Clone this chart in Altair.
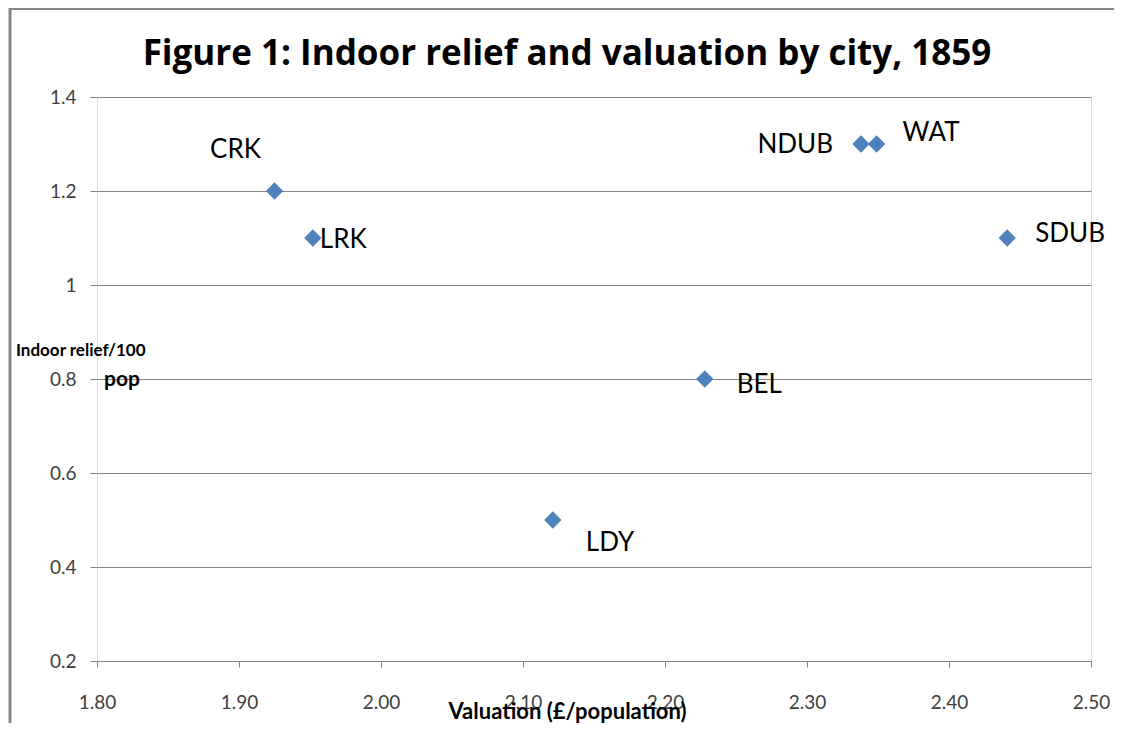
import altair as alt
import pandas as pd

# ---- data ----
cities = ["CRK", "LRK", "NDUB", "WAT", "SDUB", "BEL", "LDY"]
valuation = [1.925, 1.952, 2.338, 2.349, 2.441, 2.228, 2.121]
relief = [1.2, 1.1, 1.3, 1.3, 1.1, 0.8, 0.5]

x_ticks = [1.8, 1.9, 2.0, 2.1, 2.2, 2.3, 2.4, 2.5]
y_ticks = [0.2, 0.4, 0.6, 0.8, 1.0, 1.2, 1.4]

title_text = "Figure 1: Indoor relief and valuation by city, 1859"
y_title_lines = ["Indoor relief/100", "pop"]

df = pd.DataFrame({"city": cities, "valuation": valuation, "relief": relief})

# ---- styling ----
FONT = "Lato"
BLUE = "#4F81BD"
GRID = "#868686"
W, H = 994, 564

label_style = {
    "CRK": dict(align="center", dx=-39, dy=-41),
    "LRK": dict(align="left", dx=7, dy=2),
    "NDUB": dict(align="right", dx=-28, dy=1),
    "WAT": dict(align="left", dx=26, dy=-11),
    "SDUB": dict(align="left", dx=28, dy=-4),
    "BEL": dict(align="left", dx=32, dy=6),
    "LDY": dict(align="left", dx=33, dy=23),
}

x_enc = alt.X(
    "valuation:Q",
    scale=alt.Scale(domain=[1.8, 2.5], nice=False, zero=False),
    axis=alt.Axis(
        title="Valuation (£/population)",
        values=x_ticks,
        format=".2f",
        grid=False,
        domainColor=GRID,
        tickColor=GRID,
        tickSize=6,
        labelFlush=False,
        labelFont=FONT,
        labelFontSize=19,
        labelColor="#404040",
        labelBaseline="alphabetic",
        labelPadding=41,
        titleFont=FONT,
        titleFontSize=22,
        titleFontWeight="bold",
        titleColor="#000000",
        titleAlign="center",
        titleBaseline="alphabetic",
        titleX=470,
        titleY=57,
    ),
)
y_enc = alt.Y(
    "relief:Q",
    scale=alt.Scale(domain=[0.2, 1.4], nice=False, zero=False),
    axis=alt.Axis(
        title=y_title_lines[0],
        values=y_ticks,
        format="~g",
        grid=True,
        gridColor=GRID,
        gridWidth=1,
        domain=False,
        tickColor=GRID,
        tickSize=7,
        labelFlush=False,
        labelFont=FONT,
        labelFontSize=19,
        labelColor="#404040",
        labelPadding=14,
        titleFont=FONT,
        titleFontSize=17,
        titleFontWeight="bold",
        titleColor="#000000",
        titleAngle=0,
        titleAlign="right",
        titleBaseline="top",
        titleX=48,
        titleY=245,
    ),
)

base = alt.Chart(df)

points = base.mark_point(shape="diamond", filled=True, size=300, opacity=1, color=BLUE).encode(
    x=x_enc, y=y_enc
)

labels = []
for c in cities:
    st = label_style[c]
    labels.append(
        base.transform_filter(alt.datum.city == c)
        .mark_text(font=FONT, fontSize=26, color="#000000", baseline="middle", **st)
        .encode(x="valuation:Q", y="relief:Q", text="city:N")
    )

one = df.head(1)
frame_left = alt.Chart(one).mark_rule(color=GRID, strokeWidth=3).encode(
    x=alt.value(-87), y=alt.value(-89), y2=alt.value(H + 70)
)
frame_top = alt.Chart(one).mark_rule(color=GRID, strokeWidth=2).encode(
    x=alt.value(-88), x2=alt.value(W + 40), y=alt.value(-88)
)
title = alt.Chart(one).mark_text(
    text=title_text,
    font="Open Sans",
    fontSize=35,
    fontWeight="bold",
    color="#000000",
    align="center",
    baseline="alphabetic",
).encode(x=alt.value(470), y=alt.value(-32))
y_title_2 = alt.Chart(one).mark_text(
    text=y_title_lines[1],
    font=FONT,
    fontSize=21,
    fontWeight="bold",
    color="#000000",
    align="right",
    baseline="alphabetic",
).encode(x=alt.value(43), y=alt.value(289))

chart = (
    alt.layer(frame_left, frame_top, points, *labels, title, y_title_2)
    .properties(
        width=W,
        height=H,
        autosize=alt.AutoSizeParams(type="none"),
        padding={"left": 89, "top": 89, "right": 23, "bottom": 62},
    )
    .configure_view(stroke=None)
    .configure(background="#ffffff")
)

chart.save("out.html", embed_options={"renderer": "svg", "actions": False})
